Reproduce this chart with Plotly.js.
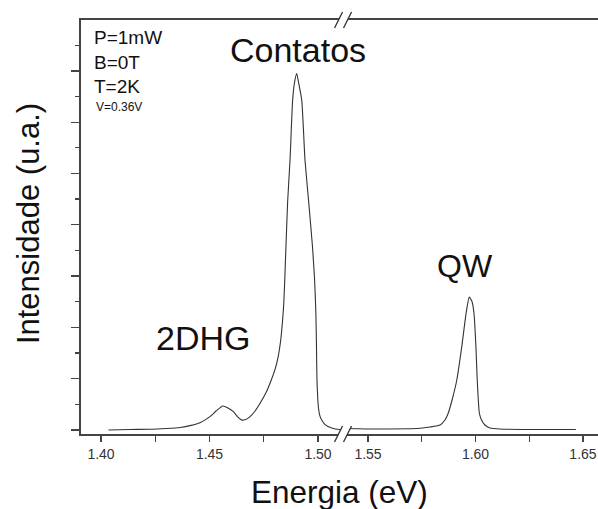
<!DOCTYPE html>
<html>
<head>
<meta charset="utf-8">
<script src="https://cdn.plot.ly/plotly-3.0.1.min.js"></script>
<style>html,body{margin:0;padding:0;background:#fff}#chart{width:598px;height:509px}</style>
</head>
<body>
<div id="chart"></div>
<script>
// Segment 1 (left of axis break): energy (eV) and intensity (a.u.)
const energyLow = [1.4034, 1.4134, 1.4226, 1.4300, 1.4364, 1.4415, 1.4456, 1.4502, 1.4530, 1.4561, 1.4585, 1.4610,
  1.4631, 1.4648, 1.4664, 1.4687, 1.4710, 1.4733, 1.4764, 1.4785, 1.4802, 1.4816, 1.4828, 1.4836, 1.4842,
  1.4847, 1.4852, 1.4860, 1.4871, 1.4883, 1.4892, 1.4902, 1.4910, 1.4925, 1.4940, 1.4958, 1.4974,
  1.4984, 1.4990, 1.4993, 1.4995, 1.4999, 1.5003, 1.5009, 1.5019, 1.5034, 1.5063, 1.5101, 1.5115];
const intensityLow = [0.00, 0.01, 0.014, 0.03, 0.05, 0.09, 0.142, 0.26, 0.37, 0.468, 0.43, 0.357,
  0.25, 0.195, 0.20, 0.26, 0.37, 0.52, 0.76, 0.98, 1.18, 1.42, 1.75, 2.10, 2.45,
  2.95, 3.55, 4.45, 5.26, 6.43, 6.78, 6.95, 6.78, 6.43, 5.26, 4.40, 3.60,
  2.95, 2.30, 1.60, 1.00, 0.60, 0.40, 0.27, 0.18, 0.10, 0.04, 0.01, 0.01];
// Segment 2 (right of axis break)
const energyHigh = [1.5384, 1.5556, 1.5742, 1.5788, 1.5835, 1.5858, 1.5873, 1.5891, 1.5913, 1.5936, 1.5956,
  1.5971, 1.5984, 1.5993, 1.6002, 1.6008, 1.6018, 1.6028, 1.6044, 1.6067, 1.6114, 1.6300, 1.6467];
const intensityHigh = [0.03, 0.02, 0.033, 0.058, 0.097, 0.195, 0.326, 0.585, 0.975, 1.62, 2.27,
  2.59, 2.50, 2.27, 1.62, 0.975, 0.326, 0.195, 0.097, 0.04, 0.02, 0.01, 0.01];
// Labels
const xTicksLow = [1.40, 1.45, 1.50];
const xTicksHigh = [1.55, 1.60, 1.65];
const peakLabels = ["Contatos", "2DHG", "QW"];
const peakX = [1.4908, 1.4470, 1.5953];
const peakY = [7.40, 1.80, 3.20];
const peakSizes = [34, 34, 32];
const conditions = ["P=1mW", "B=0T", "T=2K"];
const voltage = "V=0.36V";

const FONT = 'Liberation Sans, Arial, sans-serif';
const lineStyle = {color: '#333', width: 1.1, shape: 'spline', smoothing: 0.5};
const traces = [
  {x: energyLow, y: intensityLow, xaxis: 'x', yaxis: 'y', mode: 'lines', line: lineStyle, hoverinfo: 'skip'},
  {x: energyHigh, y: intensityHigh, xaxis: 'x2', yaxis: 'y', mode: 'lines', line: lineStyle, hoverinfo: 'skip'}
];

const axisCommon = {
  showgrid: false, zeroline: false, showline: true, linecolor: '#444', linewidth: 2,
  ticks: 'outside', ticklen: 6, tickwidth: 1.3, tickcolor: '#444',
  tickfont: {family: FONT, size: 14, color: '#333'},
  mirror: true, tickformat: '.2f'
};
const brk = 0.5068;

const annotations = [];
peakLabels.forEach((t, i) => {
  annotations.push({text: t, x: peakX[i], y: peakY[i], xref: i === 2 ? 'x2' : 'x', yref: 'y',
    showarrow: false, font: {family: FONT, size: peakSizes[i], color: '#111'}});
});
conditions.forEach((t, i) => {
  annotations.push({text: t, xref: 'paper', yref: 'paper', x: 0.022, y: 1 - (18 + 24 * i) / 414,
    xanchor: 'left', yanchor: 'middle', showarrow: false,
    font: {family: FONT, size: 19, color: '#111'}});
});
annotations.push({text: voltage, xref: 'paper', yref: 'paper', x: 0.025, y: 1 - 87 / 414,
  xanchor: 'left', yanchor: 'middle', showarrow: false,
  font: {family: FONT, size: 12, color: '#111'}});
annotations.push({text: 'Energia (eV)', xref: 'paper', yref: 'paper', x: 258 / 517, y: -58 / 414,
  xanchor: 'center', yanchor: 'middle', showarrow: false, font: {family: FONT, size: 31.5, color: '#111'}});
annotations.push({text: 'Intensidade (u.a.)', xref: 'paper', yref: 'paper', x: -53 / 517, y: 0.507,
  xanchor: 'center', yanchor: 'middle', textangle: -90, showarrow: false,
  font: {family: FONT, size: 31, color: '#111'}});

function slashPair(yPaper) {
  const dx = 4 / 517, dy = 8 / 414, gap = 9 / 517;
  const x0 = brk - 4.5 / 517;
  return [
    {type: 'path', xref: 'paper', yref: 'paper',
     path: `M ${x0 - dx} ${yPaper - dy} L ${x0 + dx} ${yPaper + dy} L ${x0 + gap + dx} ${yPaper + dy} L ${x0 + gap - dx} ${yPaper - dy} Z`,
     fillcolor: '#fff', line: {width: 0}},
    {type: 'line', xref: 'paper', yref: 'paper', x0: x0 - dx, y0: yPaper - dy, x1: x0 + dx, y1: yPaper + dy,
     line: {color: '#333', width: 1.3}},
    {type: 'line', xref: 'paper', yref: 'paper', x0: x0 + gap - dx, y0: yPaper - dy, x1: x0 + gap + dx, y1: yPaper + dy,
     line: {color: '#333', width: 1.3}}
  ];
}

const layout = {
  width: 598, height: 509,
  margin: {l: 81, r: 0, t: 20, b: 75},
  paper_bgcolor: '#fff', plot_bgcolor: '#fff',
  showlegend: false,
  xaxis: Object.assign({}, axisCommon, {domain: [0, brk], range: [1.39078, 1.51152],
    tickvals: xTicksLow, minor: {dtick: 0.025, tick0: 1.40, ticks: 'outside', ticklen: 6, tickwidth: 1.3, tickcolor: '#444'},
    anchor: 'y'}),
  xaxis2: Object.assign({}, axisCommon, {domain: [brk, 1], range: [1.53837, 1.65698],
    tickvals: xTicksHigh, minor: {dtick: 0.025, tick0: 1.55, ticks: 'outside', ticklen: 6, tickwidth: 1.3, tickcolor: '#444'},
    anchor: 'y'}),
  yaxis: {range: [-0.078, 7.992], showgrid: false, zeroline: false, showline: true, linecolor: '#444', linewidth: 2,
    ticks: 'outside', ticklen: 8, tickwidth: 1.3, tickcolor: '#444', dtick: 1, tick0: 0, showticklabels: false,
    minor: {dtick: 0.5, tick0: 0, ticks: 'outside', ticklen: 4, tickwidth: 1.3, tickcolor: '#444'}},
  annotations: annotations,
  shapes: slashPair(0).concat(slashPair(1))
};

Plotly.newPlot('chart', traces, layout, {staticPlot: true, displayModeBar: false});
</script>
</body>
</html>
